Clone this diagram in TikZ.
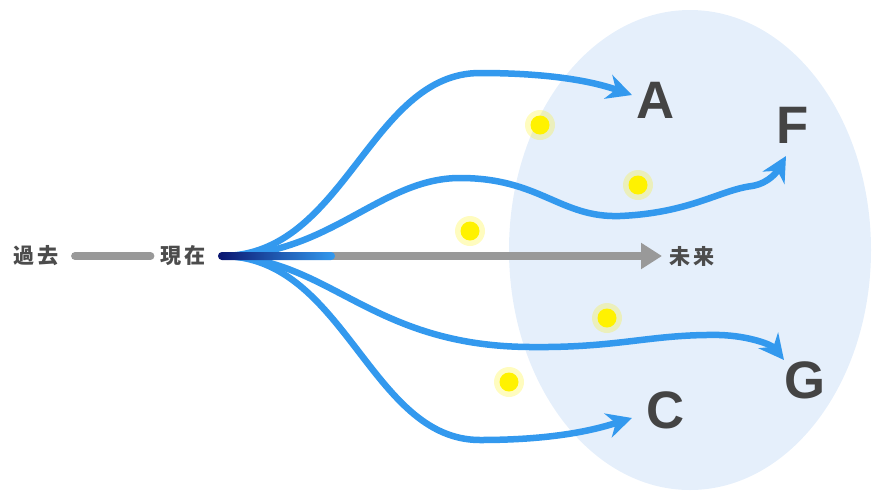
\documentclass[tikz,border=0pt]{standalone}
\usepackage{fontspec}
\setmainfont{Liberation Sans}
\newfontfamily\cjk{Noto Sans CJK JP}
\usetikzlibrary{arrows.meta}
\definecolor{skyfill}{HTML}{E5EFFB}
\definecolor{pathblue}{HTML}{3399EE}
\definecolor{navyblue}{HTML}{0B1670}
\definecolor{timegray}{HTML}{999999}
\definecolor{lettergray}{HTML}{444444}
\begin{document}
\begin{tikzpicture}[x=0.02cm, y=-0.02cm,
    path/.style={draw=pathblue, line width=3.7pt, line cap=round,
      -{Stealth[length=0.5cm, width=0.5cm, inset=0.16cm]}},
    future/.style={font=\cjk\bfseries\fontsize{12}{12}\selectfont, text=black!70},
    goal/.style={font=\bfseries\fontsize{30}{30}\selectfont, text=lettergray},
    sun/.style={circle, fill=yellow, minimum size=0.38cm, inner sep=0pt}]
  \useasboundingbox (0,0) rectangle (873,491);

  % Draw the region of possible futures
  \fill[skyfill] (690,250) ellipse [x radius=181, y radius=240];

  % Draw the time line
  \node[future] (past) at (36,256) {過\,去};
  \node[future] (present) at (183,256) {現\,在};
  \node[future] (fut) at (692,256) {未\,来};
  \coordinate (now) at (222,256);
  \coordinate (tip) at (662,256);
  \draw[timegray, line width=4.5pt, line cap=round] (past.east) ++(10,0) -- ([xshift=-2]present.west);

  % Draw the paths to the goals
  \node[goal] (A) at (656,100) {A};
  \node[goal] (F) at (793,125) {F};
  \node[goal] (G) at (805,380) {G};
  \node[goal] (C) at (666,410) {C};

  \draw[path] (now) .. controls (345,256) and (370,73) .. (480,73)
    .. controls (560,73) and (600,84) .. (632,95);
  \draw[path] (now) .. controls (330,256) and (380,178) .. (460,178)
    .. controls (540,178) and (560,218) .. (620,216)
    .. controls (690,213) and (720,190) .. (752,186)
    .. controls (770,183) and (778,170) .. (786,156);
  \draw[path] (now) .. controls (330,258) and (370,346) .. (530,347)
    .. controls (620,348) and (650,334) .. (720,335)
    .. controls (750,336) and (772,345) .. (784,360);
  \draw[path] (now) .. controls (345,256) and (370,440) .. (480,440)
    .. controls (560,440) and (600,428) .. (632,418);

  % Draw the straight way to the future
  \draw[timegray, line width=4.5pt, -{Triangle[length=0.42cm, width=0.5cm]}] (300,256) -- (tip);
  \shade[left color=navyblue, right color=pathblue, rounded corners=2.2pt]
    (218,252) rectangle (335,260);

  % Draw the chances
  \foreach \x/\y [count=\i] in {540/125, 638/185, 470/231, 607/318, 509/382} {
    \fill[yellow, opacity=0.25] (\x,\y) circle (15);
    \node[sun] (s\i) at (\x,\y) {};
  }
\end{tikzpicture}
\end{document}
